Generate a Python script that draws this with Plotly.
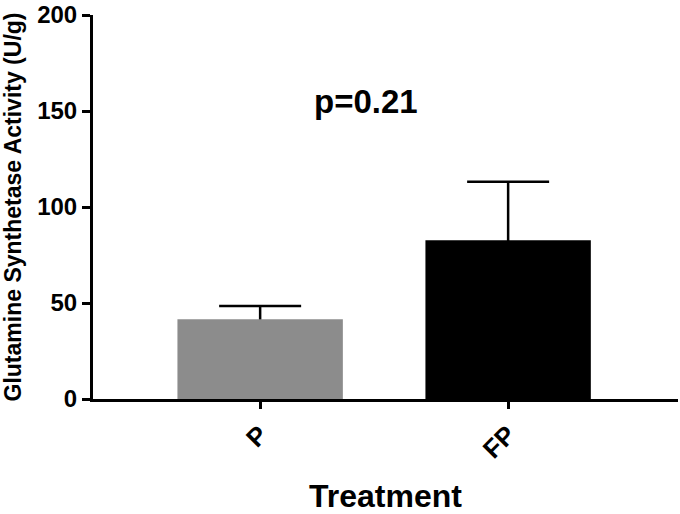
import plotly.graph_objects as go

categories = ["P", "FP"]
means = [41.5, 82.7]
errors_plus = [6.9, 30.4]
bar_colors = ["#8c8c8c", "#000000"]
y_ticks = [0, 50, 100, 150, 200]
p_text = "p=0.21"

FONT = "Liberation Sans, Arial, sans-serif"

fig = go.Figure()
# Error bars (drawn first, so the bars cover the stem below the mean and the lower cap)
fig.add_trace(go.Bar(
    x=categories,
    y=means,
    width=0.667,
    marker=dict(color="rgba(0,0,0,0)", line=dict(width=0)),
    error_y=dict(type="data", array=errors_plus, arrayminus=means, symmetric=False,
                 color="black", thickness=2.5, width=41),
    showlegend=False, hoverinfo="skip",
))
fig.add_trace(go.Bar(
    x=categories,
    y=means,
    width=0.667,
    marker=dict(color=bar_colors, line=dict(width=0)),
    showlegend=False,
))

fig.add_annotation(x=0.426, y=155, xref="x", yref="y", text=p_text,
                   showarrow=False, font=dict(family=FONT, size=33, color="black", weight="bold"))

fig.update_layout(
    width=680, height=514,
    margin=dict(l=93, r=2, t=15, b=115, autoexpand=False),
    plot_bgcolor="white", paper_bgcolor="white",
    font=dict(family=FONT, color="black"),
    barmode="overlay",
)
fig.update_xaxes(
    type="category",
    range=[-0.674, 1.685],
    automargin=False,
    showline=True, linecolor="black", linewidth=3,
    ticks="outside", ticklen=7, tickwidth=3, tickcolor="black",
    tickangle=-45,
    tickfont=dict(family=FONT, size=26, color="black", weight="bold"),
    title=dict(text="Treatment", font=dict(family=FONT, size=32, color="black", weight="bold"), standoff=24),
    showgrid=False, zeroline=False,
)
fig.update_yaxes(
    range=[0, 200],
    automargin=False,
    tickvals=y_ticks,
    ticktext=[str(v) for v in y_ticks],
    showline=True, linecolor="black", linewidth=3,
    ticks="outside", ticklen=8, tickwidth=3, tickcolor="black",
    tickfont=dict(family=FONT, size=24, color="black", weight="bold"),
    title=dict(text="Glutamine Synthetase Activity (U/g)", font=dict(family=FONT, size=23, color="black", weight="bold"), standoff=17),
    showgrid=False, zeroline=False,
)

fig.write_html("out.html", config={"displayModeBar": False},
               post_script="document.body.style.margin='0';document.body.style.overflow='hidden';")
